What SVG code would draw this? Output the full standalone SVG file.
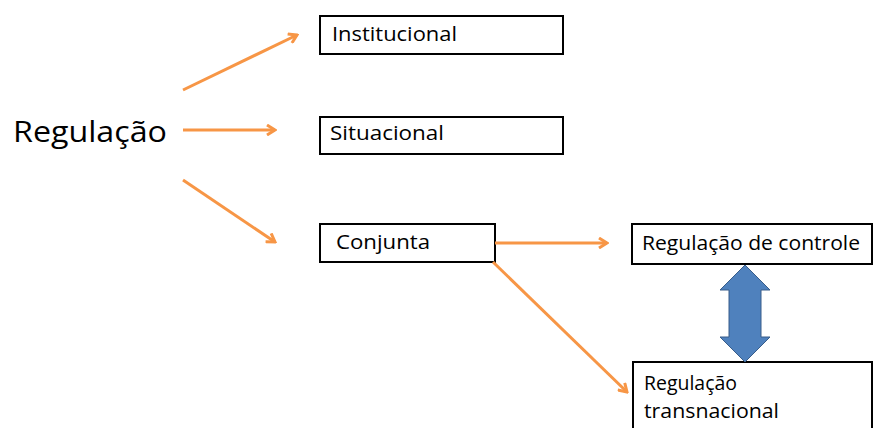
<svg xmlns="http://www.w3.org/2000/svg" width="873" height="428" viewBox="0 0 873 428">
<defs>
<marker id="ah" viewBox="0 0 12 12" refX="10" refY="6" markerWidth="12" markerHeight="12" markerUnits="userSpaceOnUse" orient="auto">
<path d="M2,1 L10,6 L2,11" fill="none" stroke="#F79646" stroke-width="3" stroke-linejoin="miter"/>
</marker>
<style>
.box{fill:#fff;stroke:#000;stroke-width:2}
.t{font-family:"Open Sans","Liberation Sans",sans-serif;font-size:20px;fill:#000}
.c{stroke:#F79646;stroke-width:3;fill:none;marker-end:url(#ah)}
</style>
</defs>
<rect width="873" height="428" fill="#fff"/>
<g id="regulacao"><text x="13" y="142" textLength="154" lengthAdjust="spacingAndGlyphs" style="font-family:'Open Sans','Liberation Sans',sans-serif;font-size:30px;fill:#000">Regulação</text></g>
<g id="institucional"><rect class="box" x="320" y="16" width="243" height="38"/><text class="t" x="332" y="41" textLength="125" lengthAdjust="spacingAndGlyphs">Institucional</text></g>
<g id="situacional"><rect class="box" x="320" y="117" width="243" height="37"/><text class="t" x="330" y="140" textLength="114" lengthAdjust="spacingAndGlyphs">Situacional</text></g>
<g id="conjunta"><rect class="box" x="320" y="224" width="175" height="38"/><text class="t" x="336" y="249" textLength="94" lengthAdjust="spacingAndGlyphs">Conjunta</text></g>
<g id="controle"><rect class="box" x="632" y="224" width="240" height="40"/><text class="t" x="642" y="250" textLength="218" lengthAdjust="spacingAndGlyphs">Regulação de controle</text></g>
<g id="transnacional"><rect class="box" x="633" y="362" width="239" height="80"/><text class="t" x="644" y="390" textLength="93" lengthAdjust="spacingAndGlyphs">Regulação</text><text class="t" x="644" y="418" textLength="135" lengthAdjust="spacingAndGlyphs">transnacional</text></g>
<g id="connectors">
<line class="c" x1="183" y1="90" x2="297" y2="35"/>
<line class="c" x1="183" y1="130" x2="275" y2="130"/>
<line class="c" x1="183" y1="180" x2="275" y2="242"/>
<line class="c" x1="495" y1="243" x2="607" y2="243"/>
<line class="c" x1="493" y1="262" x2="627" y2="392"/>
<path d="M745,265 L770,290 L761,290 L761,337 L770,337 L745,362 L720,337 L729,337 L729,290 L720,290 Z" fill="#4F81BD" stroke="#385D8A" stroke-width="1"/>
</g>
</svg>
